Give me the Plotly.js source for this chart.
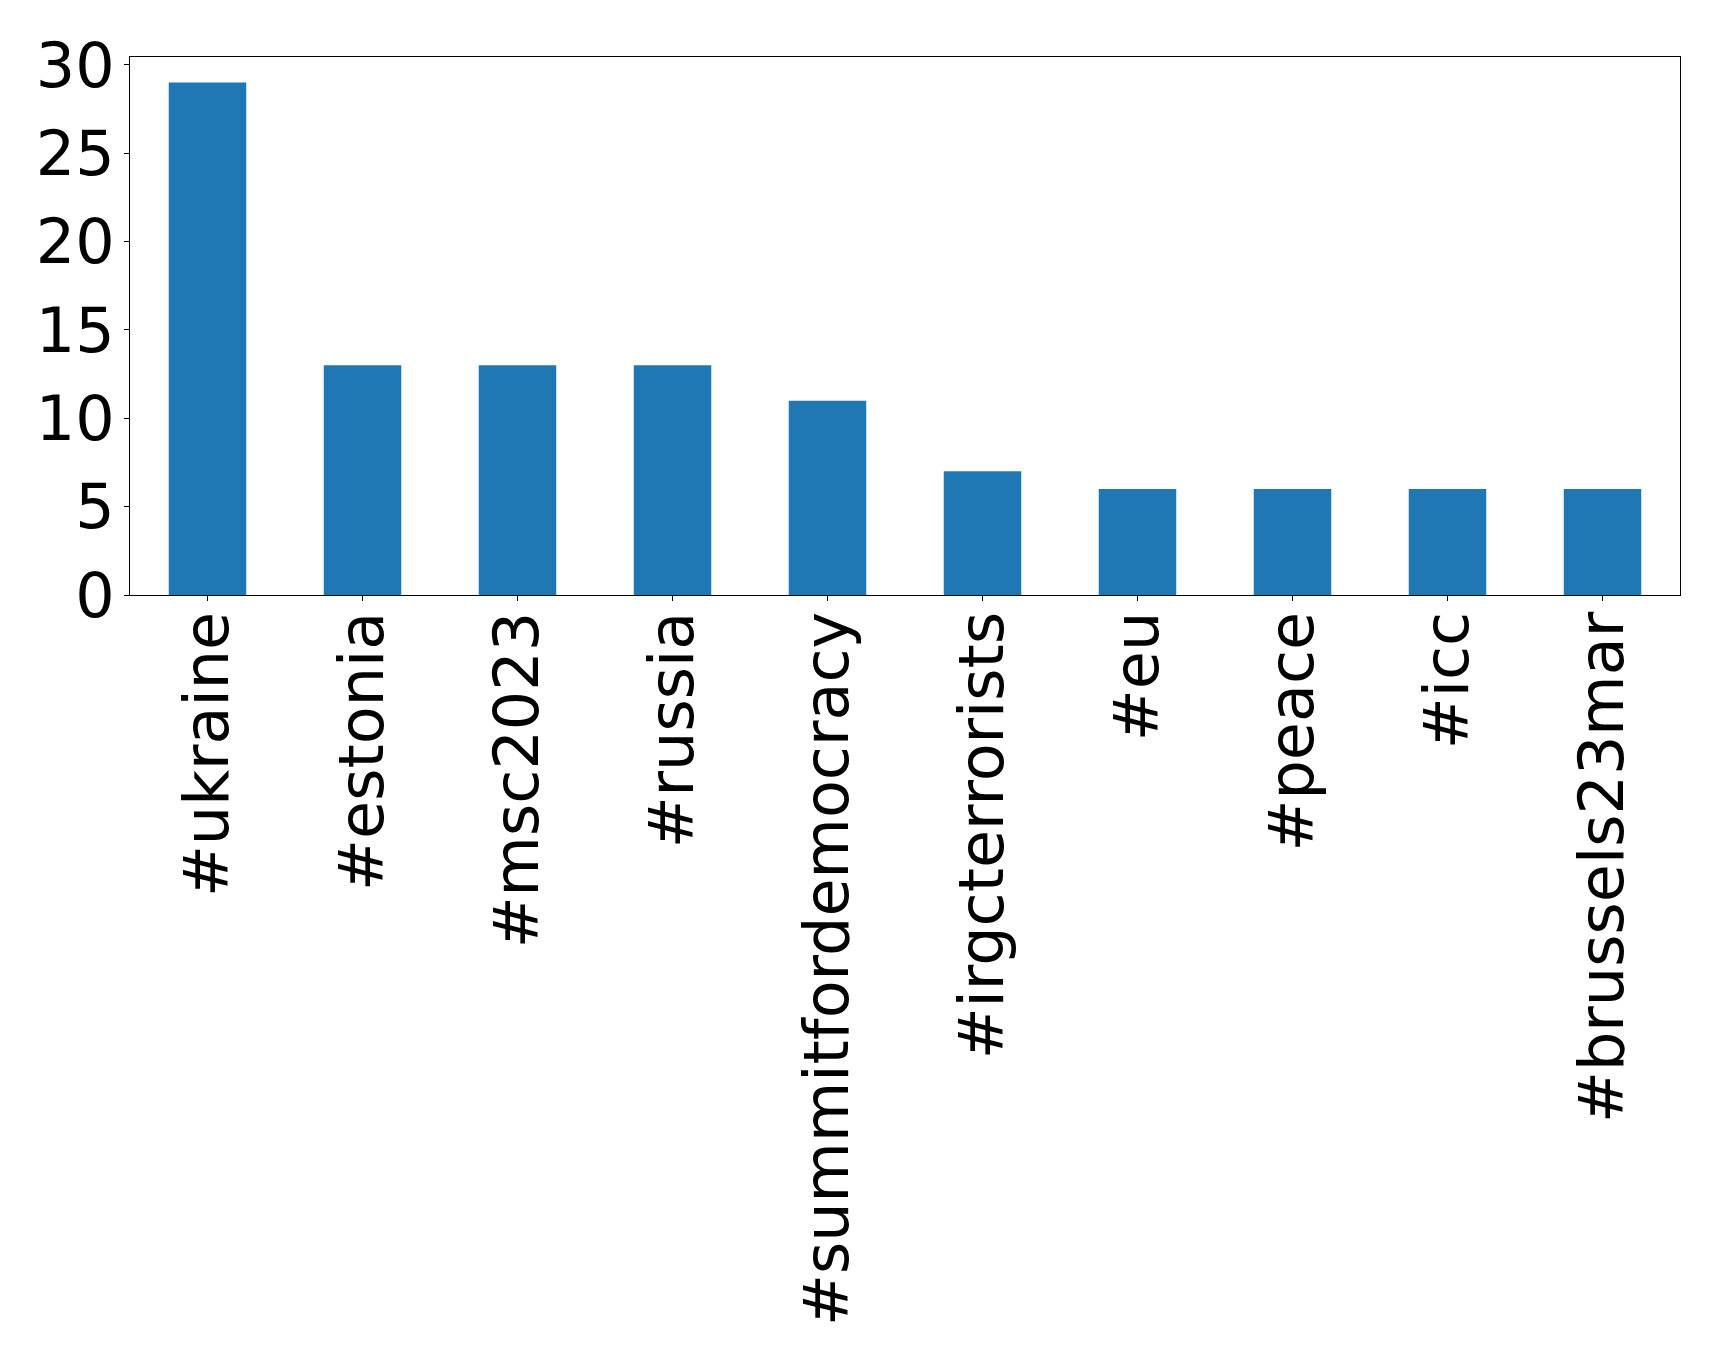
<!DOCTYPE html>
<html>
<head>
<meta charset="utf-8">
<script src="https://cdn.plot.ly/plotly-3.0.1.min.js"></script>
<style>html,body{margin:0;padding:0;background:#fff;}#chart{width:1719px;height:1364px;}</style>
</head>
<body>
<div id="chart"></div>
<script>
const hashtags = ["#ukraine", "#estonia", "#msc2023", "#russia", "#summitfordemocracy", "#irgcterrorists", "#eu", "#peace", "#icc", "#brussels23mar"];
const counts = [29, 13, 13, 13, 11, 7, 6, 6, 6, 6];
const yTicks = [0, 5, 10, 15, 20, 25, 30];

const trace = {
  type: "bar",
  x: hashtags,
  y: counts,
  width: 0.5,
  marker: {color: "#1f77b4", line: {width: 0}},
  hoverinfo: "x+y"
};

const layout = {
  width: 1719,
  height: 1364,
  paper_bgcolor: "#ffffff",
  plot_bgcolor: "#ffffff",
  margin: {l: 130, r: 39, t: 57, b: 769, pad: 0},
  font: {family: "DejaVu Sans", size: 62, color: "#000000"},
  showlegend: false,
  bargap: 0.5,
  xaxis: {
    type: "category",
    range: [-0.5, 9.5],
    tickangle: -90,
    ticks: "outside",
    ticklen: 5,
    tickwidth: 1,
    tickcolor: "#000000",
    ticklabelstandoff: -14,
    showline: true,
    linecolor: "#000000",
    linewidth: 1,
    mirror: true,
    showgrid: false,
    zeroline: false,
    tickfont: {family: "DejaVu Sans", size: 62, color: "#000000"},
    automargin: false
  },
  yaxis: {
    range: [0, 30.45],
    tickvals: yTicks,
    ticktext: yTicks.map(String),
    ticks: "outside",
    ticklen: 5,
    tickwidth: 1,
    tickcolor: "#000000",
    ticklabelstandoff: -3,
    showline: true,
    linecolor: "#000000",
    linewidth: 1,
    mirror: true,
    showgrid: false,
    zeroline: false,
    tickfont: {family: "DejaVu Sans", size: 62, color: "#000000"},
    automargin: false
  }
};

Plotly.newPlot("chart", [trace], layout, {displayModeBar: false, staticPlot: true});
</script>
</body>
</html>
